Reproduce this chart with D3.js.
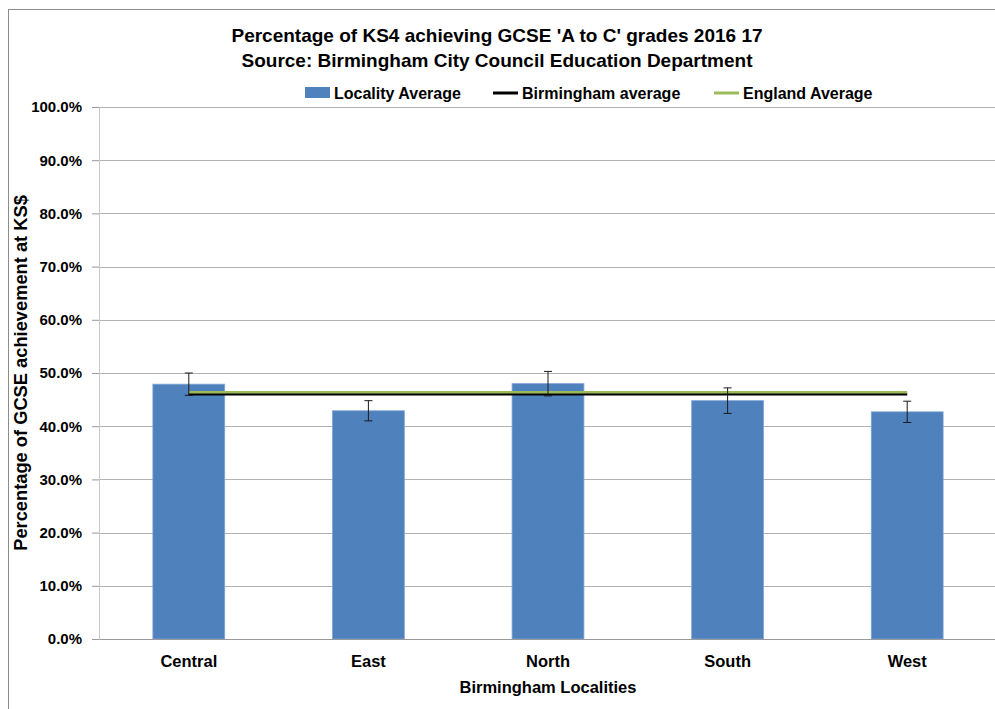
<!DOCTYPE html>
<html lang="en">
<head>
    <meta charset="UTF-8">
    <title>Percentage of KS4 achieving GCSE 'A to C' grades 2016 17</title>
    <script src="https://d3js.org/d3.v7.min.js"></script>
    <style>
        body { margin: 0; background: white; }
        text { font-family: "Liberation Sans", Arial, sans-serif; fill: #000; }
        .tick text { font-size: 15px; font-weight: bold; }
    </style>
</head>
<body>
    <svg id="chart" width="995" height="709"></svg>
    <script>
        // data
        const localities = ["Central", "East", "North", "South", "West"];
        const localityAverage = [47.9, 42.9, 48.0, 44.8, 42.7];
        const errorMargin = [2.1, 1.9, 2.3, 2.4, 2.0];
        const birminghamAverage = [46.0, 46.0, 46.0, 46.0, 46.0];
        const englandAverage = [46.4, 46.4, 46.4, 46.4, 46.4];
        const yTicks = [0, 10, 20, 30, 40, 50, 60, 70, 80, 90, 100];

        const svg = d3.select("#chart");
        const margin = {top: 107, right: -2, bottom: 70, left: 99};
        const width = 995 - margin.left - margin.right,
              height = 709 - margin.top - margin.bottom;

        // outer frame
        svg.append("rect").attr("x", 8.5).attr("y", 9.5).attr("width", 1000).attr("height", 720)
           .attr("fill", "white").attr("stroke", "#8c8c8c").attr("stroke-width", 1);

        const g = svg.append("g").attr("transform", `translate(${margin.left},${margin.top})`);

        const x = d3.scaleBand().domain(localities).range([0, width]).paddingInner(0.6).paddingOuter(0.3);
        const y = d3.scaleLinear().domain([0, 100]).range([height, 0]);
        const cx = d => x(d) + x.bandwidth() / 2;

        // gridlines
        g.selectAll(".grid").data(yTicks.slice(1)).enter().append("line")
            .attr("x1", 0).attr("x2", width + 10)
            .attr("y1", d => Math.round(y(d)) + 0.5).attr("y2", d => Math.round(y(d)) + 0.5)
            .attr("stroke", "#b3b3b3").attr("stroke-width", 1);

        // y axis
        const yAxis = g.append("g")
            .call(d3.axisLeft(y).tickValues(yTicks).tickSize(7).tickPadding(10).tickFormat(d => d.toFixed(1) + "%"));
        yAxis.select(".domain").attr("stroke", "#c8c8c8");
        yAxis.selectAll(".tick line").attr("stroke", "#999");

        // bars
        const data = localities.map((d, i) => ({name: d, v: localityAverage[i], e: errorMargin[i]}));
        g.selectAll(".bar").data(data).enter().append("rect")
            .attr("x", d => x(d.name)).attr("y", d => y(d.v))
            .attr("width", x.bandwidth()).attr("height", d => height - y(d.v))
            .attr("fill", "#4f81bd").attr("stroke", "#7fa5d6").attr("stroke-width", 0.8);

        // x axis
        const xAxis = g.append("g").attr("transform", `translate(0,${height})`)
            .call(d3.axisBottom(x).tickSize(0).tickPadding(16));
        xAxis.select(".domain").attr("stroke", "#999");
        xAxis.selectAll("text").style("font-size", "16.5px");

        // average lines
        const line = d3.line().x((d, i) => cx(localities[i])).y(d => y(d));
        g.append("path").datum(birminghamAverage).attr("d", line)
            .attr("fill", "none").attr("stroke", "#000").attr("stroke-width", 2.5);
        g.append("path").datum(englandAverage).attr("d", line)
            .attr("fill", "none").attr("stroke", "#9bbb59").attr("stroke-width", 2.5);

        // error bars
        const err = g.selectAll(".err").data(data).enter().append("g");
        err.append("line").attr("x1", d => cx(d.name)).attr("x2", d => cx(d.name))
            .attr("y1", d => y(d.v + d.e)).attr("y2", d => y(d.v - d.e));
        err.append("line").attr("x1", d => cx(d.name) - 4).attr("x2", d => cx(d.name) + 4)
            .attr("y1", d => y(d.v + d.e)).attr("y2", d => y(d.v + d.e));
        err.append("line").attr("x1", d => cx(d.name) - 4).attr("x2", d => cx(d.name) + 4)
            .attr("y1", d => y(d.v - d.e)).attr("y2", d => y(d.v - d.e));
        err.selectAll("line").attr("stroke", "#1a1a1a").attr("stroke-width", 1);

        // titles
        svg.append("text").attr("x", 497).attr("y", 42).attr("text-anchor", "middle")
            .style("font-size", "19px").style("font-weight", "bold")
            .text("Percentage of KS4 achieving GCSE 'A to C' grades 2016 17");
        svg.append("text").attr("x", 497).attr("y", 67).attr("text-anchor", "middle")
            .style("font-size", "19px").style("font-weight", "bold")
            .text("Source: Birmingham City Council Education Department");

        svg.append("text").attr("x", 548).attr("y", 693).attr("text-anchor", "middle")
            .style("font-size", "16.5px").style("font-weight", "bold")
            .text("Birmingham Localities");
        svg.append("text").attr("transform", "translate(27,373) rotate(-90)").attr("text-anchor", "middle")
            .style("font-size", "18.3px").style("font-weight", "bold")
            .text("Percentage of GCSE achievement at KS$");

        // legend
        const legend = [
            {label: "Locality Average", type: "rect", color: "#4f81bd", x: 305},
            {label: "Birmingham average", type: "line", color: "#000", x: 493},
            {label: "England Average", type: "line", color: "#9bbb59", x: 714}
        ];
        const lg = svg.selectAll(".legend").data(legend).enter().append("g")
            .attr("transform", d => `translate(${d.x},93)`);
        lg.filter(d => d.type === "rect").append("rect")
            .attr("x", 0).attr("y", -6).attr("width", 25).attr("height", 11).attr("fill", d => d.color);
        lg.filter(d => d.type === "line").append("line")
            .attr("x1", 0).attr("x2", 25).attr("y1", 0).attr("y2", 0)
            .attr("stroke", d => d.color).attr("stroke-width", 3);
        lg.append("text").attr("x", 29).attr("y", 6)
            .style("font-size", "16px").style("font-weight", "bold").text(d => d.label);
    </script>
</body>
</html>
